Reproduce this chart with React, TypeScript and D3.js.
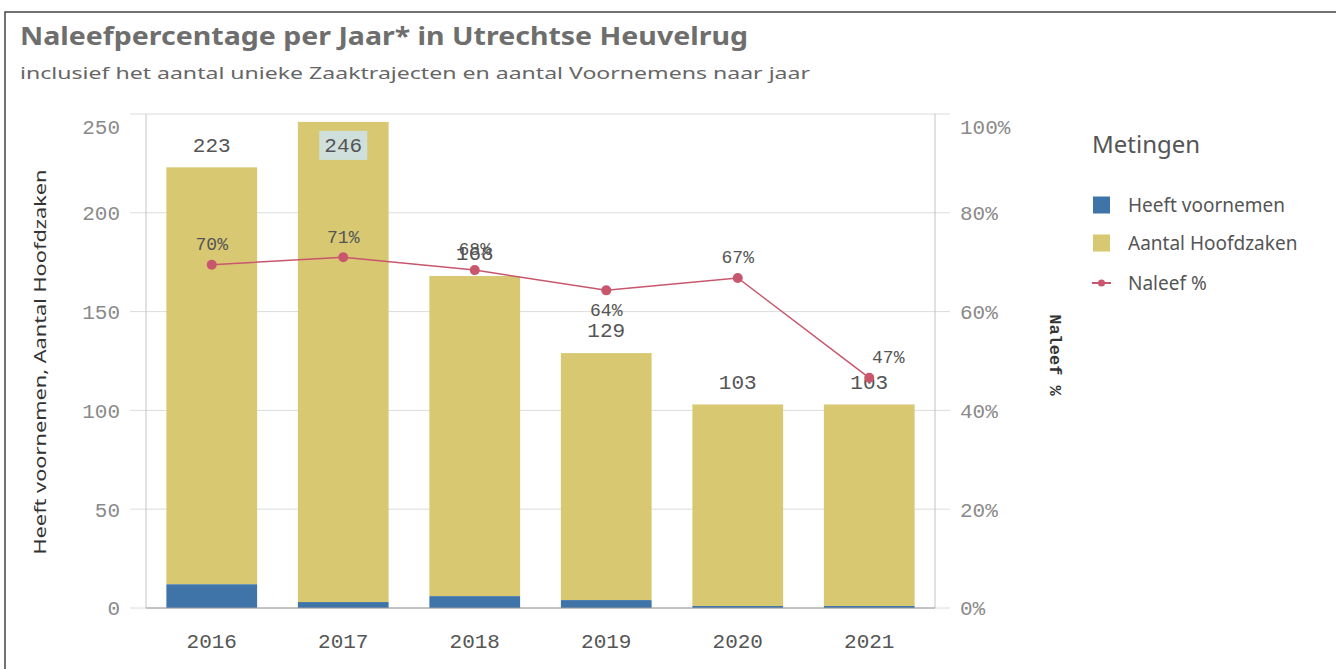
import React from "react";
import * as d3 from "d3";

const years = ["2016", "2017", "2018", "2019", "2020", "2021"];
const heeftVoornemen = [12, 3, 6, 4, 1, 1];
const aantalHoofdzaken = [211, 243, 162, 125, 102, 102];
const naleefPct = [0.695, 0.71, 0.684, 0.643, 0.668, 0.466];
const pctLabelPlacement = ["above", "above", "above", "below", "above", "right"];
const leftTicks = [0, 50, 100, 150, 200, 250];
const rightTicks = [0, 0.2, 0.4, 0.6, 0.8, 1.0];
const legendItems = ["Heeft voornemen", "Aantal Hoofdzaken", "Naleef %"];

const BLUE = "#3f74a9";
const YELLOW = "#d8c872";
const LINE = "#c8566d";
const MONO = "'Liberation Mono', 'DejaVu Sans Mono', monospace";
const SANS = "'Noto Sans', 'Open Sans', sans-serif";

export default function App() {
  const W = 1336, H = 669;
  const left = 146, right = 935, top = 114, bottom = 608;
  const x = d3.scaleBand<string>().domain(years).range([left, right]).paddingInner(0.31).paddingOuter(0.155);
  const yL = d3.scaleLinear().domain([0, 250]).range([bottom, top]);
  const yR = d3.scaleLinear().domain([0, 1]).range([bottom, top]);
  const totals = years.map((_, i) => heeftVoornemen[i] + aantalHoofdzaken[i]);
  const cx = (y: string) => (x(y) as number) + x.bandwidth() / 2;
  const line = d3.line<number>().x((_, i) => cx(years[i])).y((d) => yR(d));
  const pctFmt = d3.format(".0%");
  const tickY = (py: number) => (py - top < 8 ? py + 13 : py);

  return (
    <svg width={W} height={H} style={{ position: "absolute", left: 0, top: 0, background: "#fff" }}>
      <rect x={5} y={12} width={1400} height={800} fill="#fff" stroke="#444" strokeWidth={1.5} />
      <text x={20} y={45} fontFamily={SANS} fontWeight="bold" fontSize={25} fill="#6e6e6e" textLength={728} lengthAdjust="spacingAndGlyphs">
        Naleefpercentage per Jaar* in Utrechtse Heuvelrug
      </text>
      <text x={20} y={79} fontFamily={SANS} fontSize={17} fill="#666" textLength={790} lengthAdjust="spacingAndGlyphs">
        inclusief het aantal unieke Zaaktrajecten en aantal Voornemens naar jaar
      </text>

      {/* gridlines & ticks */}
      {leftTicks.map((t) => (
        <g key={"g" + t}>
          <line x1={130} x2={950} y1={yL(t)} y2={yL(t)} stroke="#dcdcdc" strokeWidth={1} />
          <text x={120} y={tickY(yL(t))} dy="0.35em" textAnchor="end" fontFamily={MONO} fontSize={21} fill="#8a8a8a">{t}</text>
        </g>
      ))}
      {rightTicks.map((t) => (
        <text key={"r" + t} x={960} y={tickY(yR(t))} dy="0.35em" fontFamily={MONO} fontSize={21} fill="#8a8a8a">{pctFmt(t)}</text>
      ))}
      <line x1={left} x2={left} y1={top} y2={bottom} stroke="#c4c4c4" />
      <line x1={right} x2={right} y1={top} y2={bottom} stroke="#c4c4c4" />

      {/* bars */}
      {years.map((yr, i) => (
        <g key={"b" + yr}>
          <rect x={x(yr)} width={x.bandwidth()} y={yL(totals[i])} height={yL(heeftVoornemen[i]) - yL(totals[i])} fill={YELLOW} />
          <rect x={x(yr)} width={x.bandwidth()} y={yL(heeftVoornemen[i])} height={yL(0) - yL(heeftVoornemen[i])} fill={BLUE} />
        </g>
      ))}
      <line x1={left} x2={right} y1={bottom} y2={bottom} stroke="#999" strokeWidth={1.2} />

      {/* x labels */}
      {years.map((yr) => (
        <text key={"x" + yr} x={cx(yr)} y={641} dy="0.35em" textAnchor="middle" fontFamily={MONO} fontSize={21} fill="#555">{yr}</text>
      ))}

      {/* bar total labels */}
      {years.map((yr, i) => {
        const yTop = yL(totals[i]);
        const outside = yTop - 23 > top;
        const ly = outside ? yTop - 23 : yTop + 23;
        return (
          <g key={"t" + yr}>
            {!outside && <rect x={cx(yr) - 24} y={ly - 14} width={48} height={29} fill="#cfe0dc" />}
            <text x={cx(yr)} y={ly} dy="0.35em" textAnchor="middle" fontFamily={MONO} fontSize={21} fill="#555">{totals[i]}</text>
          </g>
        );
      })}

      {/* line */}
      <path d={line(naleefPct) || ""} fill="none" stroke={LINE} strokeWidth={1.5} />
      {naleefPct.map((p, i) => (
        <circle key={"c" + i} cx={cx(years[i])} cy={yR(p)} r={5} fill={LINE} />
      ))}
      {naleefPct.map((p, i) => {
        const pl = pctLabelPlacement[i];
        const px = cx(years[i]) + (pl === "right" ? 19 : 0);
        const py = yR(p) + (pl === "below" ? 19 : -21);
        return (
          <text key={"p" + i} x={px} y={py} dy="0.35em" textAnchor="middle" fontFamily={MONO} fontSize={18} fill="#555">{pctFmt(p)}</text>
        );
      })}

      {/* axis titles */}
      <text transform="translate(40,362) rotate(-90)" textAnchor="middle" dy="0.35em" fontFamily={SANS} fontSize={17} fill="#333" textLength={385} lengthAdjust="spacingAndGlyphs">
        Heeft voornemen, Aantal Hoofdzaken
      </text>
      <text transform="translate(1056,355) rotate(90)" textAnchor="middle" dy="0.35em" fontFamily={MONO} fontSize={17} fontWeight="bold" fill="#333">
        Naleef %
      </text>

      {/* legend */}
      <text x={1092} y={145} dy="0.35em" fontFamily={SANS} fontSize={24} fill="#555">Metingen</text>
      {legendItems.map((name, i) => {
        const ly = [205, 243, 283][i];
        return (
          <g key={"l" + name}>
            {i < 2 ? (
              <rect x={1093} y={ly - 8.5} width={17} height={17} fill={i === 0 ? BLUE : YELLOW} />
            ) : (
              <g>
                <line x1={1092} x2={1111} y1={ly} y2={ly} stroke={LINE} strokeWidth={2} />
                <circle cx={1101.5} cy={ly} r={3.5} fill={LINE} />
              </g>
            )}
            <text x={1128} y={ly} dy="0.35em" fontFamily={SANS} fontSize={19} fill="#555">{name}</text>
          </g>
        );
      })}
    </svg>
  );
}
